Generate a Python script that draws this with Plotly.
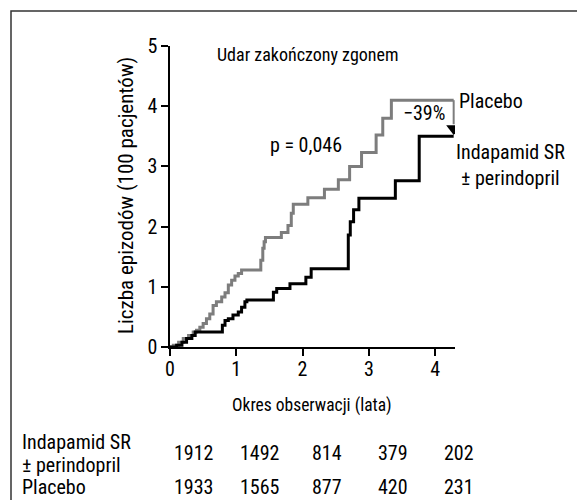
import plotly.graph_objects as go

# ---- data ----
placebo_t = [0, 0.05, 0.13, 0.20, 0.28, 0.35, 0.40, 0.45, 0.50, 0.55, 0.60, 0.65, 0.70, 0.78,
             0.83, 0.88, 0.93, 0.98, 1.03, 1.08, 1.37, 1.40, 1.42, 1.44, 1.68, 1.78, 1.83,
             1.86, 2.08, 2.33, 2.54, 2.71, 2.89, 3.11, 3.21, 3.34, 4.28]
placebo_y = [0, 0.03, 0.08, 0.14, 0.19, 0.25, 0.28, 0.33, 0.39, 0.47, 0.55, 0.69, 0.75, 0.83,
             0.90, 1.03, 1.11, 1.18, 1.22, 1.28, 1.44, 1.64, 1.75, 1.82, 1.90, 2.02, 2.22,
             2.37, 2.48, 2.62, 2.78, 3.00, 3.23, 3.52, 3.80, 4.10, 4.10]

indap_t = [0, 0.10, 0.18, 0.25, 0.33, 0.38, 0.79, 0.83, 0.88, 0.95, 1.03, 1.08, 1.13, 1.16,
           1.56, 1.61, 1.81, 2.05, 2.13, 2.69, 2.72, 2.77, 2.85, 3.40, 3.76, 4.28]
indap_y = [0, 0.03, 0.08, 0.14, 0.19, 0.25, 0.36, 0.44, 0.47, 0.53, 0.58, 0.66, 0.75, 0.78,
           0.91, 0.97, 1.05, 1.16, 1.30, 1.86, 2.08, 2.28, 2.47, 2.76, 3.50, 3.50]

x_ticks = [0, 1, 2, 3, 4]
y_ticks = [0, 1, 2, 3, 4, 5]
risk_years = [0, 1, 2, 3, 4]
risk_indap = [1912, 1492, 814, 379, 202]
risk_placebo = [1933, 1565, 877, 420, 231]

FONT = "Liberation Sans Narrow, Arial Narrow, Roboto Condensed, Liberation Sans, sans-serif"
GRAY = "#7d7d7d"
FS = 20

# page offset (browser body margin) and plot area in reference pixels
OFF = 8
W, H = 585 - OFF, 500 - OFF
L, R, T, B = 170, 455, 46, 347


def py(p):  # reference pixel y -> paper y
    return (B - p) / (B - T)


def px(p):  # reference pixel x -> paper x
    return (p - L) / (R - L)


fig = go.Figure()
fig.add_trace(go.Scatter(x=placebo_t, y=placebo_y, mode="lines", line_shape="hv",
                         line=dict(color=GRAY, width=3), hoverinfo="skip"))
fig.add_trace(go.Scatter(x=indap_t, y=indap_y, mode="lines", line_shape="hv",
                         line=dict(color="black", width=3), hoverinfo="skip"))

# arrow: from placebo end down to indapamide end
x_end = placebo_t[-1]
fig.add_shape(type="line", x0=x_end, x1=x_end, y0=placebo_y[-1], y1=indap_y[-1] + 0.2,
              line=dict(color=GRAY, width=2))
fig.add_trace(go.Scatter(x=[x_end], y=[indap_y[-1] + 0.13], mode="markers",
                         marker=dict(symbol="triangle-down", size=13, color="black"),
                         hoverinfo="skip"))

ann = []


def txt(text, x, y, xanchor="center", size=FS, xref="paper", yref="paper", **kw):
    ann.append(dict(text=text, x=x, y=y, xref=xref, yref=yref, xanchor=xanchor,
                    yanchor="middle", showarrow=False,
                    font=dict(family=FONT, size=size, color="black"), **kw))


txt("Udar zakończony zgonem", px(308), py(55), size=18)
txt("p = 0,046", px(306), py(145))
txt("Placebo", px(457), py(101), xanchor="left")
txt("\u221239%", px(424), py(113))
txt("Indapamid SR", px(510), py(152))
txt("± perindopril", px(510), py(178))
txt("Okres obserwacji (lata)", px(312), py(405), size=17.5)
txt("Liczba epizodów (100 pacjentów)", px(126), py(196), textangle=-90, size=21)

# risk table
txt("Indapamid SR", px(20), py(442), xanchor="left")
txt("± perindopril", px(20), py(465), xanchor="left")
txt("Placebo", px(20), py(487), xanchor="left")
for yr, a, b in zip(risk_years, risk_indap, risk_placebo):
    txt(str(a), yr, py(453), xref="x", xshift=24)
    txt(str(b), yr, py(487), xref="x", xshift=24)

axis_common = dict(ticks="outside", ticklen=7, tickwidth=1.5, tickcolor="black",
                   showline=True, linecolor="black", linewidth=1.5, showgrid=False,
                   zeroline=False, fixedrange=True,
                   tickfont=dict(family=FONT, size=20, color="black"))

fig.update_layout(
    width=W, height=H,
    margin=dict(l=L - OFF, r=W - (R - OFF), t=T - OFF, b=H - (B - OFF)),
    paper_bgcolor="white", plot_bgcolor="white",
    showlegend=False,
    annotations=ann,
    font=dict(family=FONT, size=FS, color="black"),
    xaxis=dict(range=[0, 4.3], tickvals=x_ticks, ticklabelstandoff=-4, **axis_common),
    yaxis=dict(range=[0, 5], tickvals=y_ticks, **axis_common),
    shapes=[dict(type="rect", xref="paper", yref="paper", x0=px(11), y0=py(560),
                 x1=px(660), y1=py(11), line=dict(color="#333", width=1.5), layer="below")],
)
fig.add_shape(type="line", x0=x_end, x1=x_end, y0=placebo_y[-1], y1=indap_y[-1] + 0.2,
              line=dict(color=GRAY, width=2))

fig.write_html("out.html")
